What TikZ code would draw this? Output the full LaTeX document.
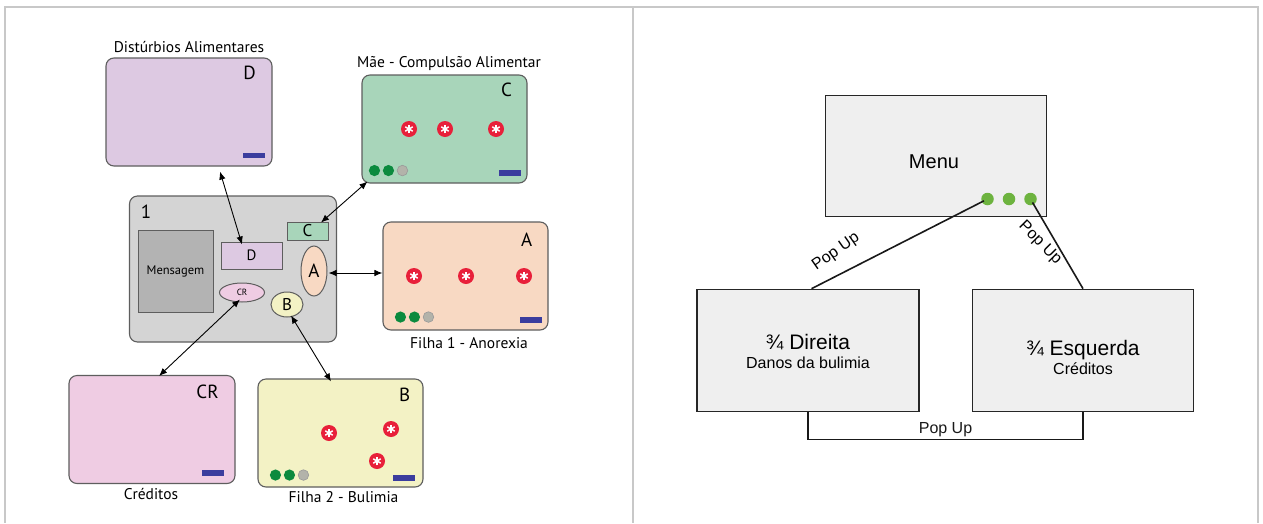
\documentclass[tikz,border=0pt]{standalone}
\usepackage{fontspec}
\setmainfont{Liberation Sans}
\newfontfamily\lfont{PT Sans}
\usetikzlibrary{arrows.meta,calc,shapes.geometric}
\definecolor{framec}{HTML}{C8C8C8}
\definecolor{edge}{HTML}{5E5E5E}
\definecolor{cD}{HTML}{DDC9E2}
\definecolor{cC}{HTML}{A8D5BA}
\definecolor{cA}{HTML}{F8D9C3}
\definecolor{cCR}{HTML}{EFCCE3}
\definecolor{cB}{HTML}{F3F2C5}
\definecolor{cMain}{HTML}{D4D4D4}
\definecolor{cMsg}{HTML}{B3B3B3}
\definecolor{astred}{HTML}{E8203A}
\definecolor{dgreen}{HTML}{0B8A3E}
\definecolor{dgray}{HTML}{B3B3AA}
\definecolor{barblue}{HTML}{3B3D9E}
\definecolor{rgray}{HTML}{EFEFEF}
\definecolor{mgreen}{HTML}{6DB33F}
\tikzset{
  screen/.style={draw=edge, line width=1.1pt, rounded corners=8pt, minimum width=166pt, minimum height=108pt, inner sep=0pt},
  inner/.style={draw=edge, line width=1pt, inner sep=0pt},
  ell/.style={ellipse, draw=edge, line width=1pt, inner sep=0pt},
  bigletter/.style={font=\lfont\fontsize{19}{19}\selectfont},
  caption/.style={font=\lfont\fontsize{15.5}{16}\selectfont},
  dbl/.style={{Latex[length=8pt,width=6.5pt]}-{Latex[length=8pt,width=6.5pt]}, line width=0.9pt},
  rbox/.style={draw=black!85, line width=1.6pt, fill=rgray, inner sep=0pt},
  rline/.style={line width=1.6pt, black!90},
  poptext/.style={font=\fontsize{16}{16}\selectfont},
  gdot/.style={circle, fill=mgreen, minimum size=12.5pt, inner sep=0pt},
  ast/.pic={
    \fill[astred] (0,0) circle (8);
    \foreach \a in {90,30,-30}{\draw[white, line width=1.5pt] (\a:4.3) -- (\a+180:4.3);}
  },
  dots/.pic={
    \fill[dgreen] (0,0) circle (5.6);
    \fill[dgreen] (14,0) circle (5.6);
    \filldraw[fill=dgray, draw=gray!80, line width=0.6pt] (28,0) circle (5.3);
  },
  bar/.pic={\fill[barblue] (-11,-2.6) rectangle (11,2.6);}
}
\begin{document}
\begin{tikzpicture}[x=1pt,y=-1pt]
\useasboundingbox (0,0) rectangle (1263,523);
\fill[white] (0,0) rectangle (1263,523);
\draw[framec, line width=2pt] (5,523) -- (5,7) -- (1258,7) -- (1258,523);
\draw[framec, line width=2pt] (633,7) -- (633,523);

% ---------- left panel ----------
\node[screen, fill=cD] (Dbig) at (189,112) {};
\node[screen, fill=cC, minimum width=165pt] (Cbig) at (444.5,129) {};
\node[screen, fill=cA, minimum width=165pt] (Abig) at (465.5,276) {};
\node[screen, fill=cCR] (CRbig) at (152,429.5) {};
\node[screen, fill=cB, minimum width=165pt] (Bbig) at (340.5,433) {};

\node[caption] (tD) at (189,47.5) {Distúrbios Alimentares};
\node[caption] (tC) at (449,63.5) {Mãe - Compulsão Alimentar};
\node[caption] (tA) at (469,343) {Filha 1 - Anorexia};
\node[caption] (tCR) at (151,494) {Créditos};
\node[caption] (tB) at (343.5,497) {Filha 2 - Bulimia};

\node[bigletter] (lD) at ($(Dbig.north east)+(-23,15)$) {D};
\node[bigletter] (lC) at ($(Cbig.north east)+(-21,15.5)$) {C};
\node[bigletter] (lA) at ($(Abig.north east)+(-22,18)$) {A};
\node[bigletter] (lCR) at ($(CRbig.north east)+(-28,16.5)$) {CR};
\node[bigletter] (lB) at ($(Bbig.north east)+(-19,16.5)$) {B};

\pic at ($(Dbig.south east)+(-19,-11)$) {bar};
\pic at ($(Cbig.south east)+(-18,-10.5)$) {bar};
\pic at ($(Abig.south east)+(-18,-10.5)$) {bar};
\pic at ($(CRbig.south east)+(-23,-11)$) {bar};
\pic at ($(Bbig.south east)+(-20,-9.5)$) {bar};

\pic at ($(Cbig.south west)+(13,-13)$) {dots};
\pic at ($(Abig.south west)+(18,-13.5)$) {dots};
\pic at ($(Bbig.south west)+(18,-12.5)$) {dots};

\pic at (409,129) {ast};
\pic at (445,129) {ast};
\pic at (496,129) {ast};
\pic at (414,276) {ast};
\pic at (466,276) {ast};
\pic at (524,276) {ast};
\pic at (329,433) {ast};
\pic at (391,429) {ast};
\pic at (377,461) {ast};

% main screen
\node[screen, fill=cMain, minimum width=207pt, minimum height=146pt] (main) at (233,269) {};
\node[bigletter, anchor=center] (l1) at (146,212) {1};
\node[inner, fill=cMsg, minimum width=75pt, minimum height=82pt, font=\lfont\fontsize{12.5}{13}\selectfont] (msg) at (175.5,271) {Mensagem};
\node[inner, fill=cD, minimum width=61pt, minimum height=27pt, font=\lfont\fontsize{15}{15}\selectfont] (dsm) at (251.5,255.5) {D};
\node[inner, fill=cC, minimum width=41pt, minimum height=18pt, font=\lfont\fontsize{17}{17}\selectfont] (csm) at (307.5,231) {C};
\node[ell, fill=cA, minimum width=26pt, minimum height=50pt, font=\lfont\fontsize{19}{19}\selectfont] (Aell) at (314,271) {A};
\node[ell, fill=cCR, minimum width=45pt, minimum height=19pt, font=\lfont\fontsize{9}{9}\selectfont] (CRell) at (242,292.5) {CR};
\node[ell, fill=cB, minimum width=32pt, minimum height=25pt, font=\lfont\fontsize{17}{17}\selectfont] (Bell) at (287,304.5) {B};

\draw[dbl] ($(Dbig.south)+(31,5)$) -- ($(dsm.north)+(-9.5,3)$);
\draw[dbl] ($(Cbig.south west)+(6,-2)$) -- ($(csm.north)+(13.5,1)$);
\draw[dbl] ($(Aell.east)+(1,2)$) -- ($(Abig.west)+(0,-3)$);
\draw[dbl] ($(CRell.south)+(-2,-3)$) -- ($(CRbig.north)+(7,1)$);
\draw[dbl] ($(Bell.south)+(4,-2)$) -- ($(Bbig.north)+(-9.5,3)$);

% ---------- right panel ----------
\node[rbox, minimum width=221pt, minimum height=121pt] (menu) at (936,156) {};
\node[rbox, minimum width=222pt, minimum height=122pt] (ldir) at (808,350.5) {};
\node[rbox, minimum width=221pt, minimum height=122pt] (resq) at (1083,350.5) {};

\node[font=\fontsize{20}{20}\selectfont] (tmenu) at (934,162) {Menu};
\node[align=center, font=\fontsize{21}{22}\selectfont] (tdir) at (808,351) {¾ Direita\\[-3pt]{\fontsize{16}{16}\selectfont Danos da bulimia}};
\node[align=center, font=\fontsize{21}{22}\selectfont] (tesq) at (1083,357) {¾ Esquerda\\[-3pt]{\fontsize{16}{16}\selectfont Créditos}};

\node[gdot] (g1) at (987.5,199) {};
\node[gdot] (g2) at (1009,199) {};
\node[gdot] (g3) at (1030.5,199) {};

\draw[rline, shorten <=4pt] (g1.center) -- ($(ldir.north)+(3.5,0)$);
\draw[rline, shorten <=4pt] (g3.center) -- (resq.north);
\draw[rline] (ldir.south) -- ++(0,27) -| node[pos=0.25, above, poptext, inner sep=2pt] (p3) {Pop Up} (resq.south);

\node[poptext, rotate=35] (p1) at (836,252) {Pop Up};
\node[poptext, rotate=-45] (p2) at (1040,243) {Pop Up};
\end{tikzpicture}
\end{document}
